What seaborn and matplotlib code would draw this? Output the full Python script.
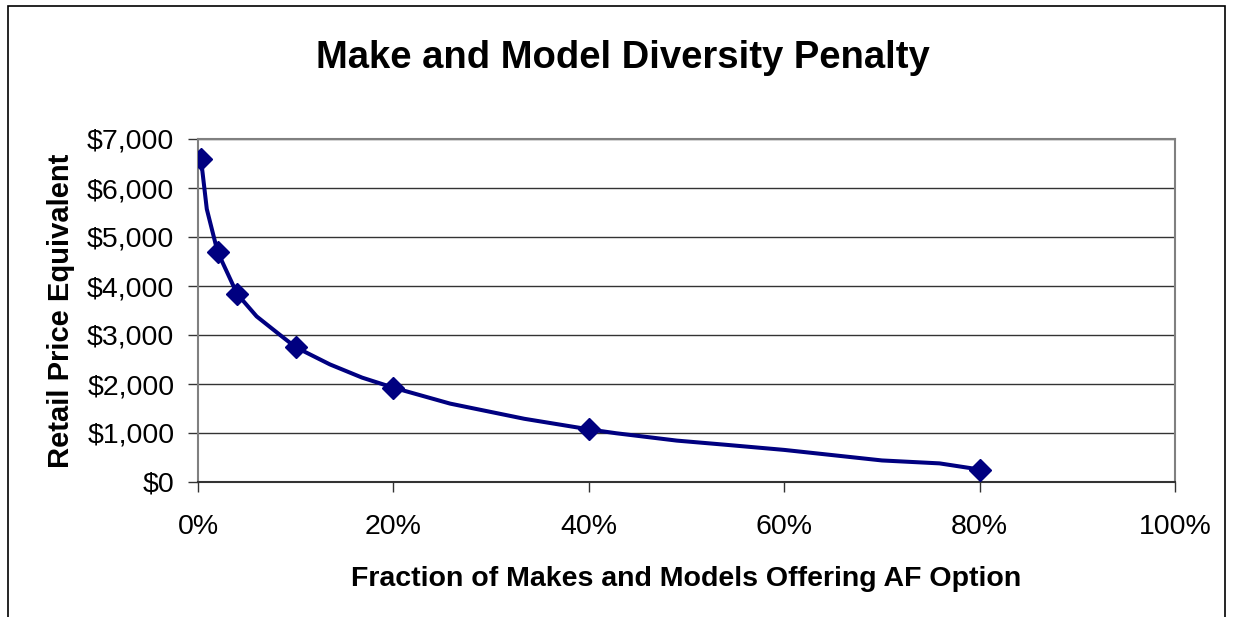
import matplotlib
matplotlib.use('Agg')
import matplotlib.pyplot as plt
from matplotlib.patches import Rectangle
from matplotlib.ticker import FuncFormatter
import pandas as pd
import seaborn as sns

sns.set_style('white')
plt.rcParams['font.family'] = ['Liberation Sans', 'DejaVu Sans']
plt.rcParams['text.color'] = 'black'
plt.rcParams['axes.labelcolor'] = 'black'
plt.rcParams['xtick.color'] = 'black'
plt.rcParams['ytick.color'] = 'black'

# marker points (fraction offering AF option, %) and penalty ($)
point_x = [0.3, 2, 4, 10, 20, 40, 80]
point_y = [6600, 4700, 3840, 2750, 1925, 1075, 255]

# the drawn curve series (more points than the markers)
curve_x = [0.3, 0.9, 2, 4, 6, 8.4, 10, 13.5, 16.8, 20, 25.8, 28, 33.4, 40,
           42.8, 49, 54, 60, 70, 75.9, 80]
curve_y = [6600, 5570, 4700, 3840, 3380, 3000, 2750, 2400, 2130, 1925, 1600,
           1510, 1290, 1075, 995, 845, 760, 655, 440, 380, 255]

x_ticks = [0, 20, 40, 60, 80, 100]
y_ticks = [0, 1000, 2000, 3000, 4000, 5000, 6000, 7000]

points = pd.DataFrame({'frac': point_x, 'penalty': point_y})
curve = pd.DataFrame({'frac': curve_x, 'penalty': curve_y})

navy = '#000080'

fig = plt.figure(figsize=(12.36, 6.17), dpi=100)
ax = fig.add_axes([198 / 1236, 1 - 482 / 617, (1175 - 198) / 1236, (482 - 139) / 617])

sns.lineplot(data=curve, x='frac', y='penalty', color=navy, linewidth=2.9,
             sort=False, ax=ax, zorder=3)
ax.plot(points['frac'], points['penalty'], linestyle='none', marker='D',
        markersize=11, color=navy, zorder=4)

ax.set_xlim(0, 100)
ax.set_ylim(0, 7000)
ax.set_xticks(x_ticks)
ax.set_yticks(y_ticks)
ax.xaxis.set_major_formatter(FuncFormatter(lambda v, p: f'{v:.0f}%'))
ax.yaxis.set_major_formatter(FuncFormatter(lambda v, p: f'${v:,.0f}'))

ax.grid(axis='y', color='#333333', linewidth=1.0)
ax.grid(axis='x', visible=False)
ax.set_axisbelow(True)
for side in ['top', 'right', 'left']:
    ax.spines[side].set_color('#808080')
    ax.spines[side].set_linewidth(1.5)
ax.spines['bottom'].set_color('#333333')
ax.spines['bottom'].set_linewidth(1.5)

ax.tick_params(axis='both', which='major', direction='out', length=7, width=1,
               color='#333333', labelsize=20.5, pad=8, bottom=True, left=True)
ax.tick_params(axis='y', pad=10)
ax.tick_params(axis='x', pad=16)

ax.set_xlabel('Fraction of Makes and Models Offering AF Option',
              fontsize=20.5, fontweight='bold', labelpad=19)
ax.set_ylabel('Retail Price Equivalent', fontsize=21, fontweight='bold',
              labelpad=9)

fig.text(623 / 1236, 1 - 58 / 617, 'Make and Model Diversity Penalty',
         ha='center', va='center', fontsize=27.5, fontweight='bold')

# chart area border (runs off the bottom of the image)
fig.patches.append(Rectangle((8 / 1236, -0.05), (1225 - 8) / 1236, 1.05 - 6 / 617,
                             transform=fig.transFigure, fill=False,
                             edgecolor='black', linewidth=1.2))

fig.savefig('out.png', dpi=100)
